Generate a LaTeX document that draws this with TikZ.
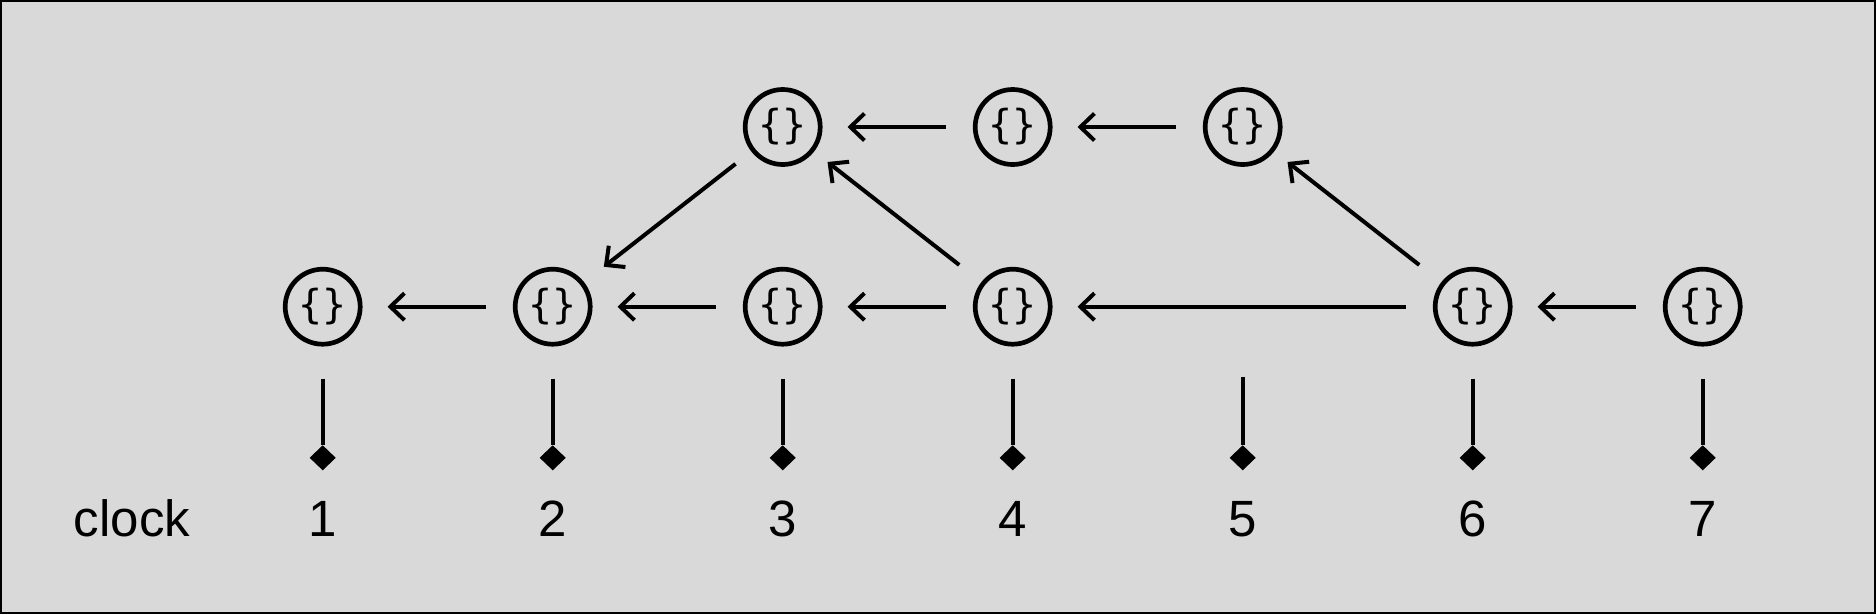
\documentclass[tikz,border=0pt]{standalone}
\usepackage{fontspec}
\setmainfont{Liberation Sans}
\newfontfamily\bracefont{DejaVu Sans Mono}
\usetikzlibrary{arrows.meta,shapes.geometric}
\definecolor{bg}{HTML}{D9D9D9}
\tikzset{
  obj/.style={circle, draw=black, line width=4.7pt, minimum size=75pt, inner sep=0pt,
    font=\bracefont\fontsize{40}{44}\selectfont},
  link/.style={line width=4pt, -{Straight Barb[length=14pt,width=27pt]}},
  tick/.style={line width=4pt},
  dmark/.style={diamond, fill=black, draw=black, line width=1pt, inner sep=0pt, minimum width=25pt, minimum height=24pt},
  lbl/.style={font=\fontsize{51}{60}\selectfont, anchor=base, inner sep=0pt},
}
\begin{document}
\begin{tikzpicture}[x=1pt,y=-1pt]
\useasboundingbox (0,0) rectangle (1876,614);
\fill[bg] (0,0) rectangle (1876,614);
\draw[line width=2pt] (1,1) rectangle (1875,613);
% bottom row
\node[obj] (b1) at (322.7,306.7) {\{\}};
\node[obj] (b2) at (552.7,306.7) {\{\}};
\node[obj] (b3) at (782.7,306.7) {\{\}};
\node[obj] (b4) at (1012.7,306.7) {\{\}};
\coordinate (b5) at (1242.7,306.7);
\node[obj] (b6) at (1472.7,306.7) {\{\}};
\node[obj] (b7) at (1702.7,306.7) {\{\}};
% top row
\node[obj] (t1) at (782.7,127) {\{\}};
\node[obj] (t2) at (1012.7,127) {\{\}};
\node[obj] (t3) at (1242.7,127) {\{\}};
% horizontal arrows
\draw[link, shorten <=27pt, shorten >=25pt] (b2) -- (b1);
\draw[link, shorten <=27pt, shorten >=25pt] (b3) -- (b2);
\draw[link, shorten <=27pt, shorten >=25pt] (b4) -- (b3);
\draw[link, shorten <=27pt, shorten >=25pt] (b6) -- (b4);
\draw[link, shorten <=27pt, shorten >=25pt] (b7) -- (b6);
\draw[link, shorten <=27pt, shorten >=25pt] (t2) -- (t1);
\draw[link, shorten <=27pt, shorten >=25pt] (t3) -- (t2);
% diagonal arrows
\draw[link, shorten <=20pt, shorten >=25pt] (t1) -- (b2);
\draw[link, shorten <=28pt, shorten >=17pt] (b4) -- (t1);
\draw[link, shorten <=28pt, shorten >=17pt] (b6) -- (t3);
% clock ticks
\foreach \i/\x in {1/322.7,2/552.7,3/782.7,4/1012.7,5/1242.7,6/1472.7,7/1702.7}{
  \node[dmark] (d\i) at (\x,457.8) {};
  \node[lbl] (n\i) at (\x,536.7) {\i};
}
\draw[tick, shorten <=32pt] (b1) -- (d1);
\draw[tick, shorten <=32pt] (b2) -- (d2);
\draw[tick, shorten <=32pt] (b3) -- (d3);
\draw[tick, shorten <=32pt] (b4) -- (d4);
\draw[tick, shorten <=70pt] (b5) -- (d5);
\draw[tick, shorten <=32pt] (b6) -- (d6);
\draw[tick, shorten <=32pt] (b7) -- (d7);
\node[lbl] (clk) at (132,536.7) {clock};
\end{tikzpicture}
\end{document}
